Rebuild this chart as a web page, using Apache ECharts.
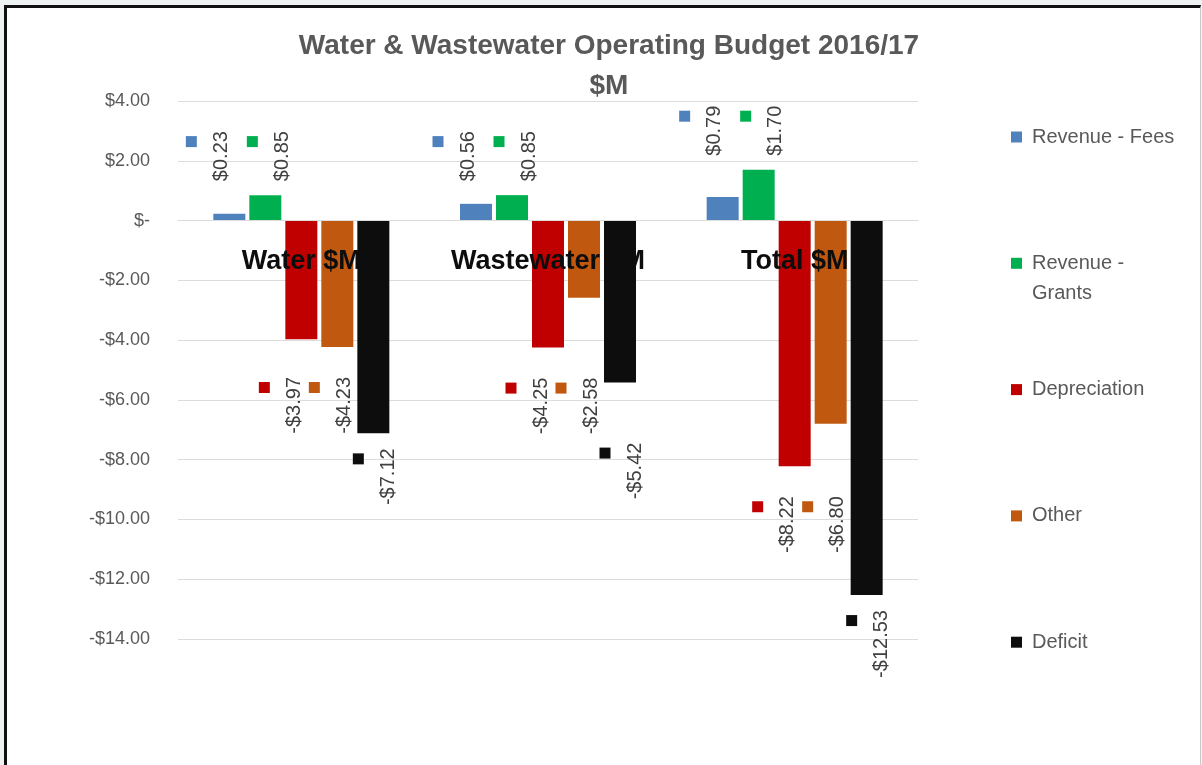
<!DOCTYPE html>
<html>
<head>
<meta charset="utf-8">
<script src="https://cdn.jsdelivr.net/npm/echarts@6/dist/echarts.min.js"></script>
<style>
  html, body { margin: 0; padding: 0; background: #eef2f3; }
  #frame {
    position: absolute; left: 4px; top: 5px; width: 1193px; height: 770px;
    background: #fff; border-left: 3px solid #111; border-top: 3px solid #111;
    border-right: 1px solid #c9c9c9;
  }
  #chart { position: absolute; left: 0; top: 0; width: 1202px; height: 765px; }
</style>
</head>
<body>
<div id="frame"></div>
<div id="chart"></div>
<script>
// data ($M)
const categories = ['Water $M', 'Wastewater $M', 'Total $M']
const seriesNames = ['Revenue - Fees', 'Revenue - Grants', 'Depreciation', 'Other', 'Deficit']
const revenueFees = [0.23, 0.56, 0.79]
const revenueGrants = [0.85, 0.85, 1.70]
const depreciation = [-3.97, -4.25, -8.22]
const other = [-4.23, -2.58, -6.80]
const deficit = [-7.12, -5.42, -12.53]
const yMin = -14
const yMax = 4
const yStep = 2

const values = [revenueFees, revenueGrants, depreciation, other, deficit]
const colors = ['#4f81bd', '#00b050', '#c00000', '#c0580f', '#0d0d0d']
const font = '"Liberation Sans", Arial, sans-serif'

// Excel-like label placement: labels of a group line up under/over the longest bar
const labelGroups = [[0, 1], [2, 3], [4]]
const labelGap = [14, 30, 15]
const labelLen = 62
// sideways nudge of each series' label (px, + = right)
const labelShift = [-14, 11, -13, 1, 9]

const grid = { left: 178, right: 284, top: 101, bottom: 126 }

const money = v => {
  if (v === 0) return '$-'
  return (v < 0 ? '-$' : '$') + Math.abs(v).toFixed(2)
}

const chart = echarts.init(document.getElementById('chart'))
const ppu = (chart.getHeight() - grid.top - grid.bottom) / (yMax - yMin)

const dist = values.map(() => [])
categories.forEach((c, ci) => {
  let negEnd = 0
  labelGroups.forEach((group, gi) => {
    const deepest = Math.max(...group.map(si => Math.abs(values[si][ci])))
    const neg = values[group[0]][ci] < 0
    let start = deepest * ppu + labelGap[gi]
    if (neg) {
      start = Math.max(start, negEnd + 3)
      negEnd = start + labelLen
    }
    group.forEach(si => {
      dist[si][ci] = start - Math.abs(values[si][ci]) * ppu
    })
  })
})

// legend: one block per series, evenly spaced like the original
const legendTop = 137
const legendStep = 126.3
const legends = seriesNames.map((name, i) => {
  const twoLines = name === 'Revenue - Grants'
  return {
    data: [name],
    orient: 'vertical',
    left: 1011,
    top: legendTop + i * legendStep - (twoLines ? 45 : 15),
    padding: 0,
    itemWidth: 11,
    itemHeight: 11,
    icon: 'rect',
    selectedMode: false,
    // empty first line keeps the key level with "Revenue -"
    formatter: n => (n === 'Revenue - Grants' ? '\nRevenue -\nGrants' : n),
    textStyle: {
      color: '#595959',
      fontSize: 20,
      fontFamily: font,
      lineHeight: 30,
      padding: [0, 0, 0, 5]
    }
  }
})

const option = {
  animation: false,
  title: {
    text: 'Water & Wastewater Operating Budget 2016/17\n$M',
    left: 604,
    top: 21,
    textAlign: 'center',
    textStyle: {
      color: '#595959',
      fontSize: 28,
      fontWeight: 'bold',
      fontFamily: font,
      lineHeight: 40
    }
  },
  legend: legends,
  grid: { ...grid, outerBoundsMode: 'none' },
  xAxis: {
    type: 'category',
    data: categories,
    z: 5,
    // category names sit just under the zero line, as in the original
    offset: yMin * ppu,
    axisLine: { show: true, onZero: false, lineStyle: { color: '#dcdcdc' } },
    axisTick: { show: false },
    axisLabel: {
      interval: 0,
      color: '#0d0d0d',
      fontSize: 27,
      fontWeight: 'bold',
      fontFamily: font,
      lineHeight: 30,
      margin: 26
    }
  },
  yAxis: {
    type: 'value',
    min: yMin,
    max: yMax,
    interval: yStep,
    axisLine: { show: false },
    axisTick: { show: false },
    splitLine: { lineStyle: { color: '#dcdcdc', width: 1 } },
    axisLabel: {
      color: '#595959',
      fontSize: 18,
      fontFamily: font,
      margin: 28,
      formatter: money
    }
  },
  series: seriesNames.map((name, si) => ({
    name,
    type: 'bar',
    barWidth: 32,
    barGap: '12.5%',
    itemStyle: { color: colors[si] },
    label: {
      show: true,
      rotate: 90,
      verticalAlign: 'middle',
      offset: [0, labelShift[si]],
      formatter: p => `{sq|}{gap|}\n{v|${money(p.value)}}`,
      rich: {
        sq: { width: 11, height: 11, lineHeight: 12, backgroundColor: colors[si], align: 'right' },
        gap: { width: 5, height: 11, lineHeight: 12, align: 'right' },
        v: { fontSize: 20, color: '#404040', fontFamily: font, lineHeight: 48 }
      }
    },
    data: values[si].map((v, ci) => ({
      value: v,
      label: {
        position: v < 0 ? 'bottom' : 'top',
        align: v < 0 ? 'right' : 'left',
        distance: dist[si][ci]
      }
    }))
  }))
}

chart.setOption(option)
</script>
</body>
</html>
